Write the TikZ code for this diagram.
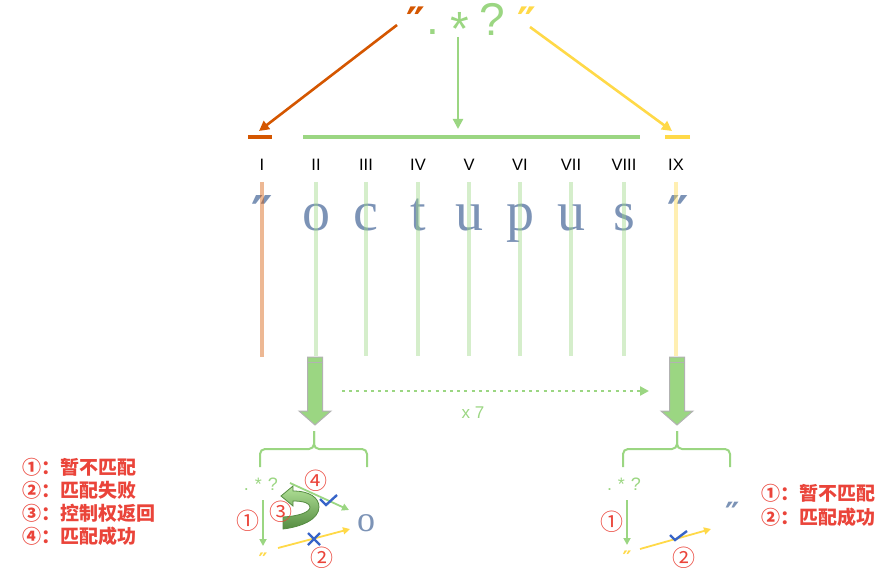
\documentclass[tikz,border=0pt]{standalone}
\usepackage{fontspec}
\setmainfont{Liberation Sans}
\newfontfamily\cjk{Noto Sans CJK SC}
\newfontfamily\dv{DejaVu Sans}
\newfontfamily\serifa{Liberation Serif}
\usetikzlibrary{arrows.meta}
\definecolor{orangeC}{RGB}{212,86,0}
\definecolor{greenC}{RGB}{155,214,130}
\definecolor{yellowC}{RGB}{255,217,72}
\definecolor{letterC}{RGB}{124,147,182}
\definecolor{redC}{RGB}{234,68,58}
\definecolor{checkC}{RGB}{55,100,200}
\definecolor{darkG}{RGB}{85,140,65}
\definecolor{lightG}{RGB}{178,226,152}
\begin{document}
\begin{tikzpicture}[x=1pt,y=-1pt,
  every node/.style={inner sep=0pt,outer sep=0pt},
  tarrow/.style={line width=2.6pt,-{Triangle[length=10pt,width=10pt]}},
  sarrow/.style={line width=1.8pt,-{Triangle[length=7pt,width=7pt]}},
  barline/.style={line width=4pt},
  vline/.style={line width=3.5pt,opacity=0.42},
  roman/.style={font=\fontsize{16.5}{18}\selectfont,text=black,anchor=base},
  letter/.style={font=\serifa\fontsize{56}{60}\selectfont,text=letterC,anchor=base},
  bigq/.style={font=\dv\bfseries\fontsize{48}{48}\selectfont,anchor=north},
  smallq/.style={font=\dv\bfseries\fontsize{20}{20}\selectfont,text=yellowC,anchor=north},
  topch/.style={font=\fontsize{46}{46}\selectfont,text=greenC,anchor=base},
  smallpat/.style={font=\fontsize{18}{18}\selectfont,text=greenC},
  circnum/.style={font=\cjk\fontsize{23}{23}\selectfont,text=redC},
  legend/.style={font=\cjk\bfseries\fontsize{19}{19}\selectfont,text=redC,anchor=west},
  blockarrow/.style={fill=greenC,draw=black!30,line width=1pt},
  bracestyle/.style={draw=greenC,line width=2pt,rounded corners=5pt},
  checkmark/.style={draw=checkC,line width=2.4pt},
]
\useasboundingbox (0,0) rectangle (891,580);

% ---------- top pattern ----------
\node[bigq,text=orangeC,font=\dv\bfseries\fontsize{42}{42}\selectfont] (qL) at (416,7) {″};
\node[topch] (pdot) at (433,35) {.};
\node[topch,font=\fontsize{48}{48}\selectfont] (pstar) at (460,46) {*};
\node[topch] (pq) at (492,36) {?};
\node[bigq,text=yellowC,font=\dv\bfseries\fontsize{42}{42}\selectfont] (qR) at (527,7) {″};

% bars
\coordinate (barOa) at (248,137); \coordinate (barOb) at (272,137);
\coordinate (barGa) at (303,137); \coordinate (barGb) at (640,137);
\coordinate (barYa) at (665,137); \coordinate (barYb) at (690,137);
\draw[barline,orangeC] (barOa) -- (barOb);
\draw[barline,greenC] (barGa) -- (barGb);
\draw[barline,yellowC] (barYa) -- (barYb);

% top arrows
\coordinate (aO1) at (397,25); \coordinate (aO2) at (259,131);
\coordinate (aG1) at (458,37); \coordinate (aG2) at (458,129);
\coordinate (aY1) at (530,27); \coordinate (aY2) at (672,131);
\draw[tarrow,orangeC] (aO1) -- (aO2);
\draw[tarrow,greenC,line width=2.2pt] (aG1) -- (aG2);
\draw[tarrow,yellowC] (aY1) -- (aY2);

% roman numerals
\foreach \x/\t/\n in {262/I/r1,316/II/r2,366/III/r3,418/IV/r4,469/V/r5,520/VI/r6,571/VII/r7,624/VIII/r8,676/IX/r9}
  \node[roman] (\n) at (\x,171) {\t};

% big letters
\node[bigq,text=letterC] (bq1) at (262,196) {″};
\foreach \x/\t/\n in {316/o/l1,366/c/l2,418/t/l3,469/u/l4,520/p/l5,571/u/l6,624/s/l7}
  \node[letter] (\n) at (\x,230) {\t};
\node[bigq,text=letterC] (bq2) at (678,196) {″};

% vertical lines
\draw[vline,orangeC,line width=4pt] (262,182) -- (262,357);
\foreach \x in {316,366,418,469,520,571,624}
  \draw[vline,greenC] (\x,182) -- (\x,356);
\draw[vline,yellowC,line width=4pt] (676,182) -- (676,356);

% block arrows
\draw[blockarrow] (307.5,357) -- (322.5,357) -- (322.5,411) -- (331,411) -- (315,425) -- (299,411) -- (307.5,411) -- cycle;
\draw[black!30,line width=1pt] (307.5,362) -- (322.5,362);
\draw[blockarrow] (669.5,357) -- (684.5,357) -- (684.5,411) -- (693,411) -- (677,425) -- (661,411) -- (669.5,411) -- cycle;
\draw[black!30,line width=1pt] (669.5,362) -- (684.5,362);

% dotted arrow
\coordinate (dA) at (342,391); \coordinate (dB) at (649,391);
\draw[greenC,line width=2.8pt,dash pattern=on 3pt off 4.2pt,-{Triangle[length=9pt,width=9pt]}] (dA) -- (dB);
\node[font=\fontsize{17}{17}\selectfont,text=greenC] (x7) at (473,413) {x 7};

% braces
\draw[bracestyle] (260,467) -- (260,449) -- (314,449) -- (314,431);
\draw[bracestyle] (367,467) -- (367,449) -- (314,449) -- (314,431);
\draw[bracestyle] (623,467) -- (623,449) -- (677,449) -- (677,431);
\draw[bracestyle] (730,467) -- (730,449) -- (677,449) -- (677,431);

% ---------- left detail ----------
\node[smallpat] (lpat) at (261,484) {.\,\,*\,\,?};
\node[smallq] (lq) at (263,553) {″};
\node[font=\serifa\fontsize{36}{36}\selectfont,text=letterC] (lo) at (366,523) {o};
\coordinate (l1a) at (263,500); \coordinate (l1b) at (263,546);
\draw[sarrow,greenC] (l1a) -- (l1b);
\coordinate (l4a) at (290,483); \coordinate (l4b) at (349,510);
\draw[sarrow,greenC] (l4a) -- (l4b);
\coordinate (l2a) at (278,548); \coordinate (l2b) at (350,529);
\draw[sarrow,yellowC] (l2a) -- (l2b);
\draw[checkmark] (320,499) -- (326,505) -- (337,495);
\draw[checkmark] (308,533) -- (320,545) (308,545) -- (320,533);
% curved arrow (3)
\shade[top color=lightG,bottom color=darkG,draw=darkG,line width=0.8pt]
  (283,517) .. controls (300,516) and (310,512) .. (310,507)
  .. controls (310,503) and (303,501) .. (293,501)
  -- (293,506) -- (281,496) -- (293,486) -- (293,491)
  .. controls (310,491) and (319,498) .. (319,507)
  .. controls (319,520) and (300,527) .. (283,529) -- cycle;
\node[circnum] (c1L) at (248,521) {①};
\node[circnum] (c2L) at (322,558) {②};
\node[circnum] (c3L) at (281,512) {③};
\node[circnum] (c4L) at (316,481) {④};

% legend left
\node[legend] (lg1) at (22,467) {①：暂不匹配};
\node[legend] (lg2) at (22,490) {②：匹配失败};
\node[legend] (lg3) at (22,513) {③：控制权返回};
\node[legend] (lg4) at (22,536) {④：匹配成功};

% ---------- right detail ----------
\node[smallpat] (rpat) at (624,484) {.\,\,*\,\,?};
\node[smallq] (rq) at (627,551) {″};
\node[bigq,text=letterC,font=\dv\bfseries\fontsize{32}{32}\selectfont] (rbq) at (733,502) {″};
\coordinate (r1a) at (627,500); \coordinate (r1b) at (627,545);
\draw[sarrow,greenC] (r1a) -- (r1b);
\coordinate (r2a) at (640,549); \coordinate (r2b) at (711,529);
\draw[sarrow,yellowC] (r2a) -- (r2b);
\draw[checkmark] (670,535) -- (675,540) -- (687,531);
\node[circnum] (c1R) at (612,522) {①};
\node[circnum] (c2R) at (684,558) {②};

\node[legend] (rg1) at (761,493) {①：暂不匹配};
\node[legend] (rg2) at (761,517) {②：匹配成功};
\end{tikzpicture}
\end{document}
